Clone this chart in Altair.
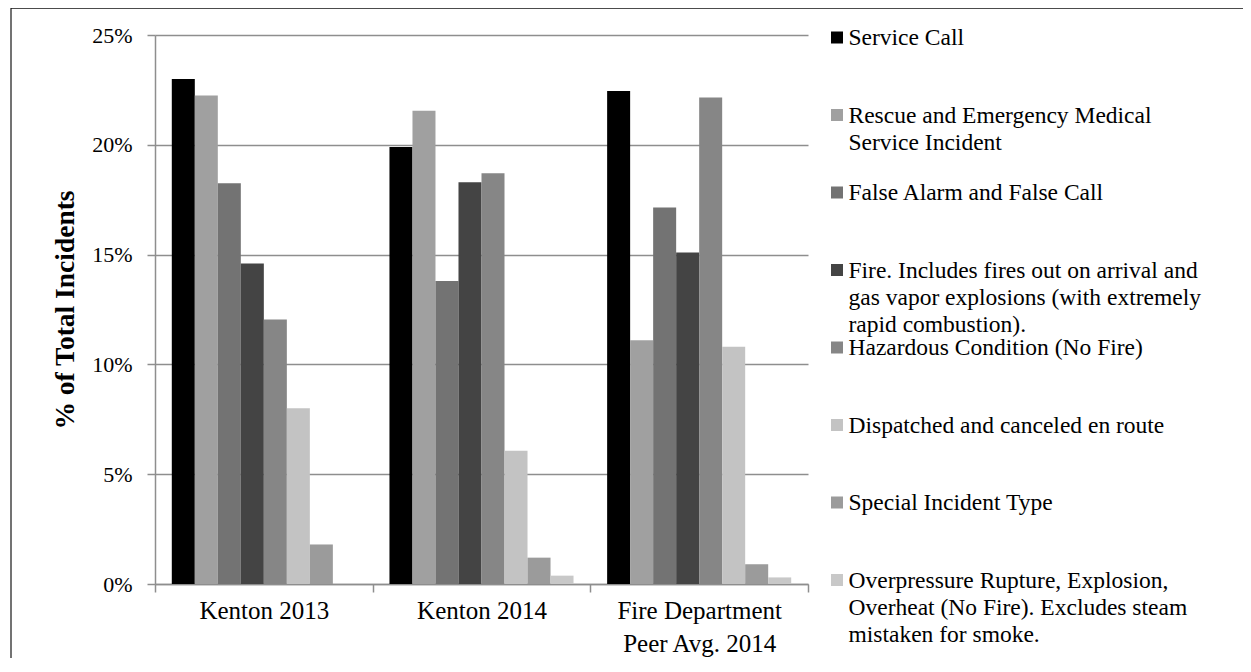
import altair as alt
import pandas as pd

groups = ["Kenton 2013", "Kenton 2014", "Fire Department Peer Avg. 2014"]
types = [
    "Service Call",
    "Rescue and Emergency Medical Service Incident",
    "False Alarm and False Call",
    "Fire",
    "Hazardous Condition (No Fire)",
    "Dispatched and canceled en route",
    "Special Incident Type",
    "Overpressure Rupture, Explosion, Overheat (No Fire)",
]
legend_labels = [
    "Service Call",
    "Rescue and Emergency Medical\nService Incident",
    "False Alarm and False Call",
    "Fire. Includes fires out on arrival and\ngas vapor explosions (with extremely\nrapid combustion).",
    "Hazardous Condition (No Fire)",
    "Dispatched and canceled en route",
    "Special Incident Type",
    "Overpressure Rupture, Explosion,\nOverheat (No Fire). Excludes steam\nmistaken for smoke.",
]
colors = ["#000000", "#a0a0a0", "#737373", "#444444", "#868686", "#c3c3c3", "#9b9b9b", "#c8c8c8"]

kenton_2013 = [23.0, 22.25, 18.25, 14.6, 12.05, 8.0, 1.8, 0.0]
kenton_2014 = [19.9, 21.55, 13.8, 18.3, 18.7, 6.07, 1.2, 0.38]
peer_avg_2014 = [22.45, 11.1, 17.15, 15.1, 22.15, 10.8, 0.9, 0.3]
y_ticks = [0, 5, 10, 15, 20, 25]

rows = []
for g, vals in zip(groups, [kenton_2013, kenton_2014, peer_avg_2014]):
    for t, v in zip(types, vals):
        rows.append({"group": g, "type": t, "value": v})
df = pd.DataFrame(rows)
legend_df = pd.DataFrame({"type": types, "label": legend_labels})
frame_df = pd.DataFrame({"k": [0]})

W, H = 653, 549
FONT = "Liberation Serif"
GRID = "#8e8e8e"

color_scale = alt.Scale(domain=types, range=colors)

bars = alt.Chart(df).mark_bar().encode(
    x=alt.X(
        "group:N", sort=groups, title=None,
        scale=alt.Scale(paddingInner=0, paddingOuter=0),
        axis=alt.Axis(
            tickBand="extent", tickSize=8, tickColor=GRID, tickWidth=1.5,
            domainColor=GRID, domainWidth=1.5, labelAngle=0, labelFont=FONT,
            labelFontSize=25, labelColor="black", labelPadding=6, labelLineHeight=33,
            labelBaseline="top", labelOverlap=False, labelLimit=300, grid=False,
            labelExpr="datum.label == 'Fire Department Peer Avg. 2014' ? ['Fire Department', 'Peer Avg. 2014'] : datum.label",
        ),
    ),
    xOffset=alt.XOffset("type:N", sort=types, scale=alt.Scale(paddingInner=0, paddingOuter=0.73)),
    y=alt.Y(
        "value:Q", scale=alt.Scale(domain=[0, 25]), title="% of Total Incidents",
        axis=alt.Axis(
            values=y_ticks, labelExpr="datum.value + '%'", grid=True, gridColor=GRID,
            gridWidth=1.5, domainColor=GRID, domainWidth=1.5, tickColor=GRID, tickWidth=1.5,
            tickSize=8, labelFont=FONT, labelFontSize=22, labelColor="black", labelPadding=15,
            titleFont=FONT, titleFontSize=27.5, titleFontWeight="bold", titleColor="black",
            titlePadding=12,
        ),
    ),
    color=alt.Color("type:N", scale=color_scale, legend=None),
)

# legend: swatches as marks, labels drawn by an axis on the right
legend_items = alt.Chart(legend_df).mark_square(size=144, opacity=1, filled=True).encode(
    x=alt.value(682),
    y=alt.Y(
        "label:N", sort=legend_labels, title=None,
        scale=alt.Scale(type="point", range=[2.5, 2.5 + 77.5 * 7], padding=0),
        axis=alt.Axis(
            orient="right", offset=40, domain=False, ticks=False, tickSize=0, grid=False,
            labelPadding=0, labelFont=FONT, labelFontSize=23.5, labelColor="black",
            labelAlign="left", labelBaseline="top", labelLineHeight=27, labelOffset=-12,
            labelLimit=0, labelOverlap=False,
            labelExpr="split(datum.label, '\\n')",
        ),
    ),
    color=alt.Color("type:N", scale=color_scale, legend=None),
)

left_border = alt.Chart(frame_df).mark_rule(color="#444444", strokeWidth=1.5).encode(
    x=alt.value(-144), y=alt.value(-28), y2=alt.value(625)
)
top_border = alt.Chart(frame_df).mark_rule(color="#111111", strokeWidth=1.5).encode(
    x=alt.value(-144), x2=alt.value(1090), y=alt.value(-27)
)

chart = (
    alt.layer(bars, legend_items, left_border, top_border)
    .resolve_scale(y="independent")
    .properties(
        width=W, height=H,
        autosize=alt.AutoSizeParams(type="none"),
        padding={"left": 147, "top": 27, "right": 435, "bottom": 74},
    )
    .configure(font=FONT)
    .configure_view(stroke=None)
)

chart.save("out.html", embed_options={"renderer": "svg", "actions": False})
